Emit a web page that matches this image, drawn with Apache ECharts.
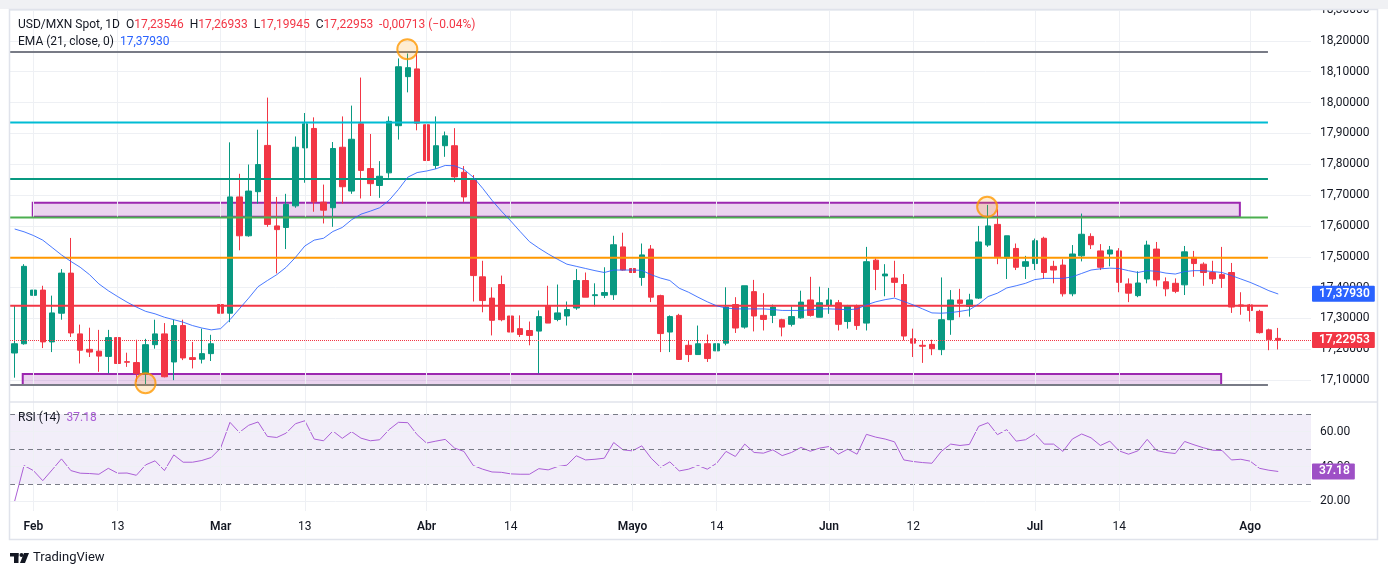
<!DOCTYPE html>
<html>
<head>
<meta charset="utf-8">
<script src="https://cdn.jsdelivr.net/npm/echarts@6/dist/echarts.min.js"></script>
<style>
  html, body { margin: 0; padding: 0; background: #fff; }
  #chart { width: 1388px; height: 575px; }
</style>
</head>
<body>
<div id="chart"></div>
<script>
var chart = echarts.init(document.getElementById('chart'))

// trading days (Mon-Fri) from 29 Jan 2026, with 3 empty slots on the right
var firstDay = '2026-01-29'
var slotCount = 139
var dates = []
var day = new Date(firstDay + 'T00:00:00Z')
while (dates.length < slotCount) {
  var wd = day.getUTCDay()
  if (wd !== 0 && wd !== 6) dates.push(day.toISOString().slice(0, 10))
  day.setUTCDate(day.getUTCDate() + 1)
}

var tickDates = ['2026-02-02', '2026-02-13', '2026-03-02', '2026-03-13', '2026-04-01', '2026-04-14',
  '2026-05-01', '2026-05-14', '2026-06-01', '2026-06-12', '2026-07-01', '2026-07-14', '2026-08-03']
var tickTexts = ['Feb', '13', 'Mar', '13', 'Abr', '14', 'Mayo', '14', 'Jun', '12', 'Jul', '14', 'Ago']

var opens = [
  17.188, 17.218, 17.375, 17.392, 17.224, 17.317, 17.447, 17.250, 17.200, 17.194,
  17.177, 17.238, 17.160, 17.157, 17.122, 17.215, 17.250, 17.159, 17.277, 17.173,
  17.168, 17.186, 17.345, 17.317, 17.694, 17.568, 17.711, 17.861, 17.600, 17.595,
  17.665, 17.853, 17.916, 17.677, 17.659, 17.855, 17.713, 17.931, 17.786, 17.731,
  17.772, 17.925, 18.084, 18.109, 17.928, 17.796, 17.860, 17.860, 17.774, 17.751,
  17.435, 17.366, 17.410, 17.308, 17.267, 17.261, 17.259, 17.342, 17.297, 17.308,
  17.334, 17.423, 17.374, 17.375, 17.377, 17.532, 17.462, 17.433, 17.525, 17.374,
  17.256, 17.310, 17.213, 17.183, 17.218, 17.195, 17.220, 17.345, 17.272, 17.387,
  17.310, 17.310, 17.296, 17.281, 17.302, 17.360, 17.304, 17.342, 17.351, 17.290,
  17.342, 17.285, 17.489, 17.438, 17.431, 17.410, 17.234, 17.213, 17.216, 17.199,
  17.296, 17.360, 17.339, 17.366, 17.538, 17.605, 17.496, 17.527, 17.469, 17.478,
  17.560, 17.469, 17.473, 17.380, 17.503, 17.566, 17.519, 17.509, 17.519, 17.412,
  17.374, 17.428, 17.525, 17.419, 17.414, 17.409, 17.498, 17.476, 17.449, 17.442,
  17.449, 17.344, 17.344, 17.323, 17.263, 17.23546
]
var closes = [
  17.218, 17.469, 17.392, 17.224, 17.318, 17.447, 17.253, 17.197, 17.191, 17.178,
  17.238, 17.154, 17.158, 17.122, 17.215, 17.250, 17.111, 17.277, 17.172, 17.167,
  17.186, 17.218, 17.317, 17.694, 17.568, 17.713, 17.799, 17.605, 17.588, 17.670,
  17.855, 17.931, 17.678, 17.651, 17.851, 17.727, 17.881, 17.780, 17.737, 17.761,
  17.939, 18.116, 18.113, 17.933, 17.812, 17.860, 17.892, 17.759, 17.694, 17.439,
  17.358, 17.294, 17.296, 17.256, 17.248, 17.245, 17.306, 17.285, 17.318, 17.329,
  17.423, 17.369, 17.377, 17.384, 17.539, 17.457, 17.449, 17.506, 17.369, 17.251,
  17.306, 17.167, 17.183, 17.218, 17.170, 17.218, 17.337, 17.269, 17.406, 17.308,
  17.297, 17.337, 17.272, 17.306, 17.353, 17.310, 17.351, 17.360, 17.281, 17.342,
  17.277, 17.484, 17.459, 17.444, 17.417, 17.243, 17.220, 17.210, 17.202, 17.296,
  17.360, 17.349, 17.360, 17.548, 17.600, 17.500, 17.568, 17.466, 17.484, 17.552,
  17.449, 17.457, 17.380, 17.509, 17.573, 17.539, 17.466, 17.522, 17.417, 17.382,
  17.415, 17.538, 17.425, 17.396, 17.388, 17.516, 17.478, 17.449, 17.428, 17.430,
  17.337, 17.340, 17.326, 17.254, 17.231, 17.22953
]
var highs = [
  17.342, 17.476, 17.568, 17.406, 17.374, 17.460, 17.561, 17.280, 17.270, 17.263,
  17.263, 17.253, 17.189, 17.231, 17.234, 17.296, 17.285, 17.296, 17.296, 17.224,
  17.267, 17.247, 17.392, 17.871, 17.769, 17.799, 17.912, 18.016, 17.694, 17.704,
  17.890, 17.966, 17.952, 17.734, 17.872, 17.955, 17.990, 18.081, 17.898, 17.810,
  17.955, 18.143, 18.159, 18.165, 17.962, 17.955, 17.906, 17.917, 17.794, 17.765,
  17.487, 17.401, 17.439, 17.310, 17.310, 17.290, 17.326, 17.406, 17.410, 17.355,
  17.460, 17.449, 17.414, 17.466, 17.568, 17.578, 17.484, 17.543, 17.538, 17.377,
  17.310, 17.315, 17.229, 17.277, 17.248, 17.248, 17.401, 17.369, 17.406, 17.425,
  17.382, 17.345, 17.299, 17.339, 17.390, 17.435, 17.403, 17.399, 17.360, 17.344,
  17.345, 17.532, 17.495, 17.476, 17.487, 17.444, 17.267, 17.229, 17.231, 17.433,
  17.392, 17.396, 17.380, 17.600, 17.668, 17.654, 17.568, 17.543, 17.503, 17.559,
  17.565, 17.487, 17.492, 17.538, 17.640, 17.576, 17.541, 17.535, 17.528, 17.430,
  17.453, 17.552, 17.548, 17.433, 17.430, 17.535, 17.519, 17.482, 17.487, 17.532,
  17.480, 17.385, 17.347, 17.328, 17.267, 17.26933
]
var lows = [
  17.108, 17.215, 17.320, 17.204, 17.191, 17.296, 17.240, 17.154, 17.175, 17.127,
  17.122, 17.135, 17.143, 17.095, 17.084, 17.202, 17.109, 17.100, 17.165, 17.138,
  17.154, 17.162, 17.224, 17.288, 17.521, 17.565, 17.672, 17.597, 17.446, 17.525,
  17.659, 17.740, 17.646, 17.608, 17.597, 17.672, 17.704, 17.689, 17.697, 17.691,
  17.756, 17.880, 18.033, 17.910, 17.794, 17.785, 17.824, 17.742, 17.678, 17.355,
  17.320, 17.245, 17.291, 17.195, 17.240, 17.213, 17.122, 17.285, 17.291, 17.277,
  17.328, 17.369, 17.339, 17.366, 17.360, 17.455, 17.380, 17.406, 17.353, 17.191,
  17.191, 17.167, 17.159, 17.183, 17.159, 17.159, 17.213, 17.253, 17.267, 17.258,
  17.261, 17.285, 17.242, 17.274, 17.299, 17.306, 17.304, 17.315, 17.261, 17.267,
  17.263, 17.261, 17.392, 17.372, 17.369, 17.229, 17.175, 17.156, 17.181, 17.181,
  17.247, 17.304, 17.306, 17.363, 17.532, 17.476, 17.428, 17.457, 17.428, 17.457,
  17.428, 17.414, 17.371, 17.372, 17.485, 17.525, 17.457, 17.469, 17.385, 17.353,
  17.369, 17.414, 17.404, 17.372, 17.382, 17.376, 17.435, 17.406, 17.412, 17.399,
  17.318, 17.312, 17.290, 17.251, 17.197, 17.19945
]
var ema21 = [
  17.590, 17.581, 17.569, 17.554, 17.530, 17.506, 17.485, 17.466, 17.442, 17.412,
  17.390, 17.371, 17.353, 17.337, 17.323, 17.315, 17.304, 17.296, 17.288, 17.277,
  17.269, 17.263, 17.267, 17.296, 17.331, 17.366, 17.403, 17.423, 17.442, 17.466,
  17.498, 17.535, 17.554, 17.560, 17.582, 17.595, 17.620, 17.638, 17.648, 17.659,
  17.683, 17.718, 17.758, 17.773, 17.778, 17.785, 17.796, 17.795, 17.783, 17.758,
  17.722, 17.683, 17.648, 17.616, 17.582, 17.549, 17.528, 17.509, 17.492, 17.476,
  17.469, 17.462, 17.455, 17.449, 17.457, 17.457, 17.457, 17.456, 17.442, 17.431,
  17.423, 17.398, 17.385, 17.369, 17.354, 17.341, 17.334, 17.331, 17.331, 17.331,
  17.331, 17.329, 17.326, 17.326, 17.326, 17.328, 17.331, 17.331, 17.330, 17.328,
  17.331, 17.344, 17.354, 17.361, 17.366, 17.355, 17.344, 17.331, 17.318, 17.317,
  17.319, 17.323, 17.328, 17.347, 17.371, 17.382, 17.399, 17.406, 17.414, 17.426,
  17.430, 17.430, 17.430, 17.435, 17.446, 17.457, 17.461, 17.463, 17.462, 17.455,
  17.449, 17.455, 17.453, 17.447, 17.444, 17.452, 17.455, 17.455, 17.452, 17.449,
  17.439, 17.428, 17.417, 17.404, 17.390, 17.3793
]
var rsi14 = [
  20.2, 40.6, 37.7, 31.9, 38.1, 44.4, 37.7, 36.2, 36.0, 35.6,
  39.0, 36.2, 36.3, 35.0, 41.0, 43.3, 37.7, 46.7, 42.5, 42.5,
  43.5, 45.2, 50.6, 65.4, 59.6, 63.7, 65.6, 57.3, 56.7, 59.2,
  64.6, 66.3, 55.8, 54.8, 60.4, 56.2, 60.0, 56.3, 54.8, 55.4,
  61.2, 65.4, 65.2, 58.3, 53.5, 54.6, 55.6, 50.6, 48.7, 40.6,
  38.5, 36.9, 36.7, 35.8, 35.6, 35.6, 38.8, 38.1, 40.0, 40.8,
  46.2, 43.8, 44.2, 44.8, 53.8, 49.6, 49.0, 51.9, 44.8, 39.6,
  42.7, 37.5, 38.5, 40.6, 38.5, 41.9, 48.7, 45.8, 52.9, 48.1,
  47.7, 49.6, 46.3, 48.1, 51.0, 48.8, 50.6, 51.5, 47.1, 50.0,
  47.1, 58.5, 56.9, 55.8, 54.2, 43.8, 42.9, 42.3, 41.9, 48.7,
  52.9, 52.1, 52.7, 63.1, 65.2, 58.3, 61.2, 54.6, 55.4, 58.8,
  52.9, 52.9, 48.7, 55.8, 58.7, 56.5, 52.1, 54.6, 49.0, 47.1,
  49.0, 55.6, 49.2, 48.1, 47.5, 54.4, 52.5, 50.8, 49.4, 49.2,
  43.8, 44.2, 43.1, 39.0, 37.9, 37.18
]

// drawn levels (horizontal lines), they stop at slot 133.9
var levelPrices = [18.164, 17.935, 17.752, 17.627, 17.497, 17.341, 17.084]
var levelColors = ['#787b86', '#00bcd4', '#089981', '#4caf50', '#ff9800', '#f23645', '#787b86']
var levelEnd = 133.9
// zones: [fromSlot, toSlot, lowPrice, highPrice]
var zones = [[1.93, 130.9, 17.630, 17.675], [0.86, 128.9, 17.084, 17.120]]
// highlighted pivots: [slot, price]
var pivots = [[13.98, 17.090], [41.95, 18.173], [103.9, 17.662]]

var lastClose = 17.22953
var lastEma = 17.37930
var lastRsi = 37.18
var rsiLevels = [70, 50, 30]
var rsiGrid = [60, 40, 20]

var UP = '#089981', DOWN = '#f23645', TXT = '#131722', GRID = '#eef0f4'
var FONT = 'Roboto, "Noto Sans", sans-serif'
var HIDDEN = 'rgba(0,0,0,0)'

function fmtPrice(v) { return v.toFixed(5).replace('.', ',') }

var tickLabel = {}
tickDates.forEach(function (t, i) { tickLabel[t] = tickTexts[i] })

var candleData = opens.map(function (o, i) { return [o, closes[i], lows[i], highs[i]] })

var levelSeries = levelPrices.map(function (p, i) {
  return {
    type: 'line', xAxisIndex: 2, yAxisIndex: 0, z: 5, silent: true,
    symbol: 'none', animation: false,
    lineStyle: { color: levelColors[i], width: 2 },
    data: [[-0.5, p], [levelEnd, p]]
  }
})

function tag(text, bg) {
  return {
    show: true, position: 'end', distance: 1, formatter: text,
    color: '#fff', backgroundColor: bg, fontSize: 12, fontWeight: 600,
    padding: [2, 5, 2, 7], borderRadius: 1
  }
}

var option = {
  animation: false,
  textStyle: { fontFamily: FONT },
  grid: [
    { left: 10, top: 10, width: 1301, height: 401 },
    { left: 10, top: 402, width: 1301, height: 109 }
  ],
  xAxis: [
    { type: 'category', gridIndex: 0, data: dates, show: false },
    {
      type: 'category', gridIndex: 1, data: dates,
      axisLine: { show: false }, axisTick: { show: false }, splitLine: { show: false },
      axisLabel: {
        margin: 10,
        interval: function (idx, val) { return tickLabel[val] !== undefined },
        formatter: function (val) {
          var t = tickLabel[val]
          return /\d/.test(t) ? '{d|' + t + '}' : '{m|' + t + '}'
        },
        rich: {
          d: { fontSize: 12, color: TXT, fontFamily: FONT },
          m: { fontSize: 12, color: TXT, fontWeight: 600, fontFamily: FONT }
        }
      }
    },
    { type: 'value', gridIndex: 0, min: -0.5, max: 138.5, show: false }
  ],
  yAxis: [
    {
      type: 'value', gridIndex: 0, position: 'right', min: 17.0, max: 18.3, interval: 0.1,
      axisLine: { show: false }, axisTick: { show: false },
      axisLabel: { color: TXT, fontSize: 12, margin: 9, showMinLabel: false, formatter: fmtPrice },
      splitLine: { showMinLine: false, lineStyle: { color: GRID } }
    },
    { type: 'value', gridIndex: 1, min: 14.5, max: 77.06, show: false }
  ],
  series: [
    {
      // vertical grid lines, main pane
      type: 'line', xAxisIndex: 0, yAxisIndex: 0, data: [], z: 0, silent: true,
      markLine: {
        silent: true, symbol: 'none', animation: false, label: { show: false },
        lineStyle: { color: GRID, width: 1, type: 'solid' },
        data: tickDates.map(function (t) { return { xAxis: t } })
      }
    },
    {
      type: 'candlestick', xAxisIndex: 0, yAxisIndex: 0, z: 3,
      barWidth: 6,
      itemStyle: { color: UP, color0: DOWN, borderColor: UP, borderColor0: DOWN, borderWidth: 1 },
      data: candleData,
      markLine: {
        silent: true, symbol: 'none', animation: false,
        lineStyle: { color: DOWN, width: 1, type: 'dotted' },
        label: tag(fmtPrice(lastClose), DOWN),
        data: [{ yAxis: lastClose }]
      }
    },
    {
      type: 'line', name: 'EMA', xAxisIndex: 0, yAxisIndex: 0, z: 6, showSymbol: false,
      symbol: 'none', lineStyle: { color: '#2962ff', width: 1, opacity: 0.85 },
      data: ema21,
      markLine: {
        silent: true, symbol: 'none', animation: false,
        lineStyle: { color: HIDDEN, width: 1 },
        label: tag(fmtPrice(lastEma), '#2962ff'),
        data: [{ yAxis: lastEma }]
      }
    }
  ].concat(levelSeries).concat([
    {
      type: 'line', xAxisIndex: 2, yAxisIndex: 0, data: [], z: 7, silent: true,
      markArea: {
        silent: true,
        itemStyle: { color: 'rgba(156,39,176,0.2)', borderColor: '#9c27b0', borderWidth: 2 },
        data: zones.map(function (zn) { return [{ coord: [zn[0], zn[3]] }, { coord: [zn[1], zn[2]] }] })
      }
    },
    {
      type: 'scatter', xAxisIndex: 2, yAxisIndex: 0, z: 8, silent: true,
      symbolSize: 20,
      itemStyle: { color: 'rgba(255,152,0,0.22)', borderColor: '#ff9800', borderWidth: 2 },
      data: pivots
    },
    {
      // RSI pane
      type: 'line', name: 'RSI', xAxisIndex: 1, yAxisIndex: 1, z: 4, showSymbol: false,
      symbol: 'none', lineStyle: { color: '#ab5fd6', width: 1 },
      data: rsi14,
      markArea: {
        silent: true, itemStyle: { color: 'rgba(126,87,194,0.1)' },
        data: [[{ yAxis: rsiLevels[2] }, { yAxis: rsiLevels[0] }]]
      },
      markLine: {
        silent: true, symbol: 'none', animation: false,
        data: rsiGrid.map(function (v) {
          return {
            yAxis: v, lineStyle: { color: GRID, width: 1, type: 'solid' },
            label: { show: true, position: 'end', distance: 9, color: TXT, fontSize: 12, formatter: v.toFixed(2) }
          }
        }).concat(rsiLevels.map(function (v) {
          return { yAxis: v, lineStyle: { color: '#787b86', width: 1, type: [5, 4] }, label: { show: false } }
        })).concat([{
          yAxis: lastRsi, lineStyle: { color: HIDDEN, width: 1 },
          label: tag(lastRsi.toFixed(2), '#9e50c6')
        }])
      }
    },
    {
      type: 'line', xAxisIndex: 1, yAxisIndex: 1, data: [], z: 0, silent: true,
      markLine: {
        silent: true, symbol: 'none', animation: false, label: { show: false },
        lineStyle: { color: GRID, width: 1, type: 'solid' },
        data: tickDates.map(function (t) { return { xAxis: t } })
      }
    }
  ]),
  graphic: [
    { type: 'rect', z: 100, shape: { x: 0, y: 0, width: 1388, height: 9 }, style: { fill: '#f0f1f4' } },
    { type: 'rect', z: 100, shape: { x: 9.5, y: 9.5, width: 1368, height: 530 }, style: { fill: 'none', stroke: '#e0e3eb', lineWidth: 1.5 } },
    { type: 'line', z: 100, shape: { x1: 9, y1: 402, x2: 1378, y2: 402 }, style: { stroke: '#e0e3eb', lineWidth: 1.5 } },
    {
      type: 'text', z: 100, left: 18, top: 19,
      style: {
        text: '{d|USD/MXN Spot, 1D  O}{r|17,23546}{d|  H}{r|17,26933}{d|  L}{r|17,19945}{d|  C}{r|17,22953}{r|  -0,00713 (\u22120.04%)}',
        rich: {
          d: { fill: TXT, fontSize: 12, fontFamily: FONT },
          r: { fill: DOWN, fontSize: 12, fontFamily: FONT }
        }
      }
    },
    {
      type: 'text', z: 100, left: 18, top: 36,
      style: {
        text: '{d|EMA (21, close, 0)  }{b|17,37930}',
        rich: {
          d: { fill: TXT, fontSize: 12, fontFamily: FONT },
          b: { fill: '#2962ff', fontSize: 12, fontFamily: FONT }
        }
      }
    },
    {
      type: 'text', z: 100, left: 18, top: 412,
      style: {
        text: '{d|RSI (14)  }{p|37.18}',
        rich: {
          d: { fill: TXT, fontSize: 12, fontFamily: FONT },
          p: { fill: '#ab5fd6', fontSize: 12, fontFamily: FONT }
        }
      }
    },
    {
      type: 'group', left: 10, top: 553,
      children: [
        { type: 'rect', shape: { x: 0, y: 0, width: 8.5, height: 3.5 }, style: { fill: TXT } },
        { type: 'rect', shape: { x: 4, y: 0, width: 4.5, height: 10 }, style: { fill: TXT } },
        { type: 'circle', shape: { cx: 11.5, cy: 2, r: 2 }, style: { fill: TXT } },
        { type: 'polygon', shape: { points: [[14, 0], [19, 0], [15, 10], [10, 10]] }, style: { fill: TXT } }
      ]
    },
    {
      type: 'text', left: 33, top: 551,
      style: { text: 'TradingView', fill: TXT, fontSize: 13, fontFamily: FONT }
    }
  ]
}

chart.setOption(option)
</script>
</body>
</html>
